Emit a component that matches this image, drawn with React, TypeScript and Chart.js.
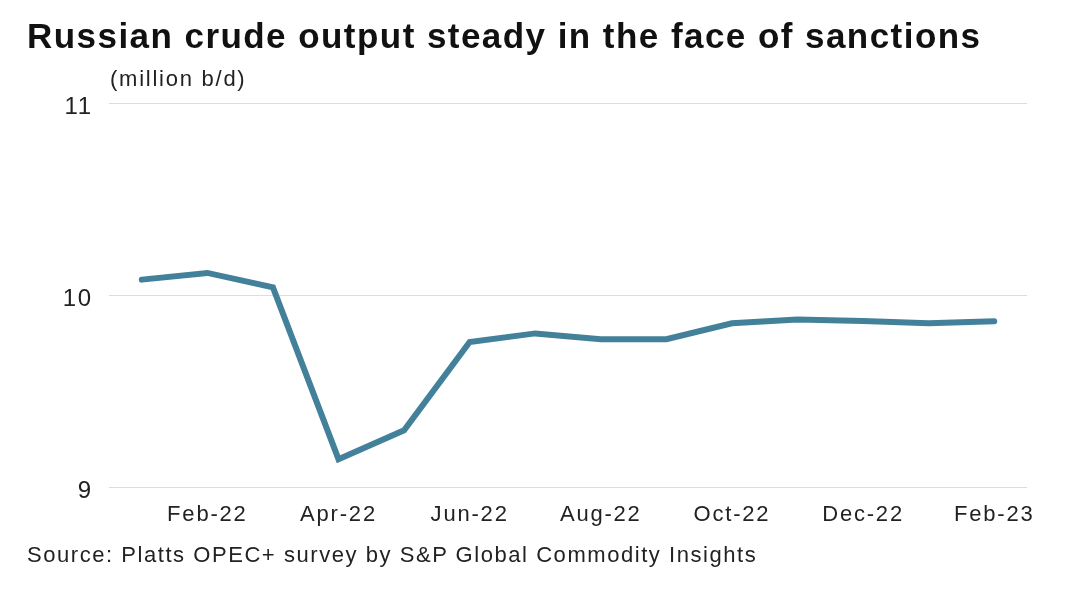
import React, { useEffect, useRef } from "react";
import Chart from "chart.js/auto";

const months = [
  "Jan-22", "Feb-22", "Mar-22", "Apr-22", "May-22", "Jun-22", "Jul-22",
  "Aug-22", "Sep-22", "Oct-22", "Nov-22", "Dec-22", "Jan-23", "Feb-23",
];
const output = [
  10.08, 10.115, 10.04, 9.145, 9.295, 9.755, 9.8, 9.77, 9.77, 9.853, 9.873, 9.865, 9.853, 9.863,
];
const yTicks = [9, 10, 11];

const TEXT = "#222222";
const FONT = "'Liberation Sans', Arial, sans-serif";
const SPACING = "1.8px";

const spacingPlugin = {
  id: "letterSpacing",
  beforeLayout(chart: any) { (chart.ctx as any).letterSpacing = SPACING; },
  beforeDraw(chart: any) { (chart.ctx as any).letterSpacing = SPACING; },
};

export default function App() {
  const ref = useRef<HTMLCanvasElement | null>(null);

  useEffect(() => {
    document.body.style.margin = "0";
    const ctx = ref.current;
    if (!ctx) return;
    const chart = new Chart(ctx, {
      type: "line",
      data: {
        labels: months,
        datasets: [
          {
            data: output,
            borderColor: "#43819a",
            borderWidth: 6,
            pointRadius: 0,
            tension: 0,
            borderCapStyle: "round",
            borderJoinStyle: "miter",
            fill: false,
          },
        ],
      },
      plugins: [spacingPlugin],
      options: {
        animation: false,
        responsive: false,
        maintainAspectRatio: false,
        layout: { padding: { top: 103, right: 39, left: 0, bottom: 0 } },
        plugins: { legend: { display: false }, tooltip: { enabled: false }, title: { display: false } },
        scales: {
          x: {
            offset: true,
            grid: { display: false, drawTicks: false },
            border: { display: false },
            afterFit: (s: any) => { s.height = 107; },
            ticks: {
              autoSkip: false,
              maxRotation: 0,
              padding: 15,
              color: TEXT,
              font: { family: FONT, size: 22 },
              callback: (_v: any, i: number) => (i % 2 === 1 ? months[i] : ""),
            },
          },
          y: {
            min: 9,
            max: 11,
            afterFit: (s: any) => { s.width = 109; },
            afterBuildTicks: (s: any) => { s.ticks = yTicks.map((v) => ({ value: v })); },
            grid: { color: "#dddddd", lineWidth: 1, drawTicks: false },
            border: { display: false },
            ticks: {
              padding: 16,
              labelOffset: 4,
              color: TEXT,
              font: { family: FONT, size: 24 },
            },
          },
        },
      },
    });
    return () => chart.destroy();
  }, []);

  return (
    <div style={{ position: "relative", width: 1066, height: 594, background: "#fff", overflow: "hidden" }}>
      <canvas ref={ref} width={1066} height={594} style={{ position: "absolute", left: 0, top: 0, width: 1066, height: 594 }} />
      <div style={{ position: "absolute", left: 27, top: 14, fontFamily: FONT, fontWeight: 700, fontSize: 35, lineHeight: "44px", color: "#111", whiteSpace: "nowrap", letterSpacing: 1.45 }}>
        Russian crude output steady in the face of sanctions
      </div>
      <div style={{ position: "absolute", left: 110, top: 64, fontFamily: FONT, fontSize: 22, lineHeight: "30px", color: TEXT, whiteSpace: "nowrap", letterSpacing: 1.75 }}>
        (million b/d)
      </div>
      <div style={{ position: "absolute", left: 27, top: 540, fontFamily: FONT, fontSize: 22, lineHeight: "30px", color: TEXT, whiteSpace: "nowrap", letterSpacing: 1.55 }}>
        Source: Platts OPEC+ survey by S&amp;P Global Commodity Insights
      </div>
    </div>
  );
}
